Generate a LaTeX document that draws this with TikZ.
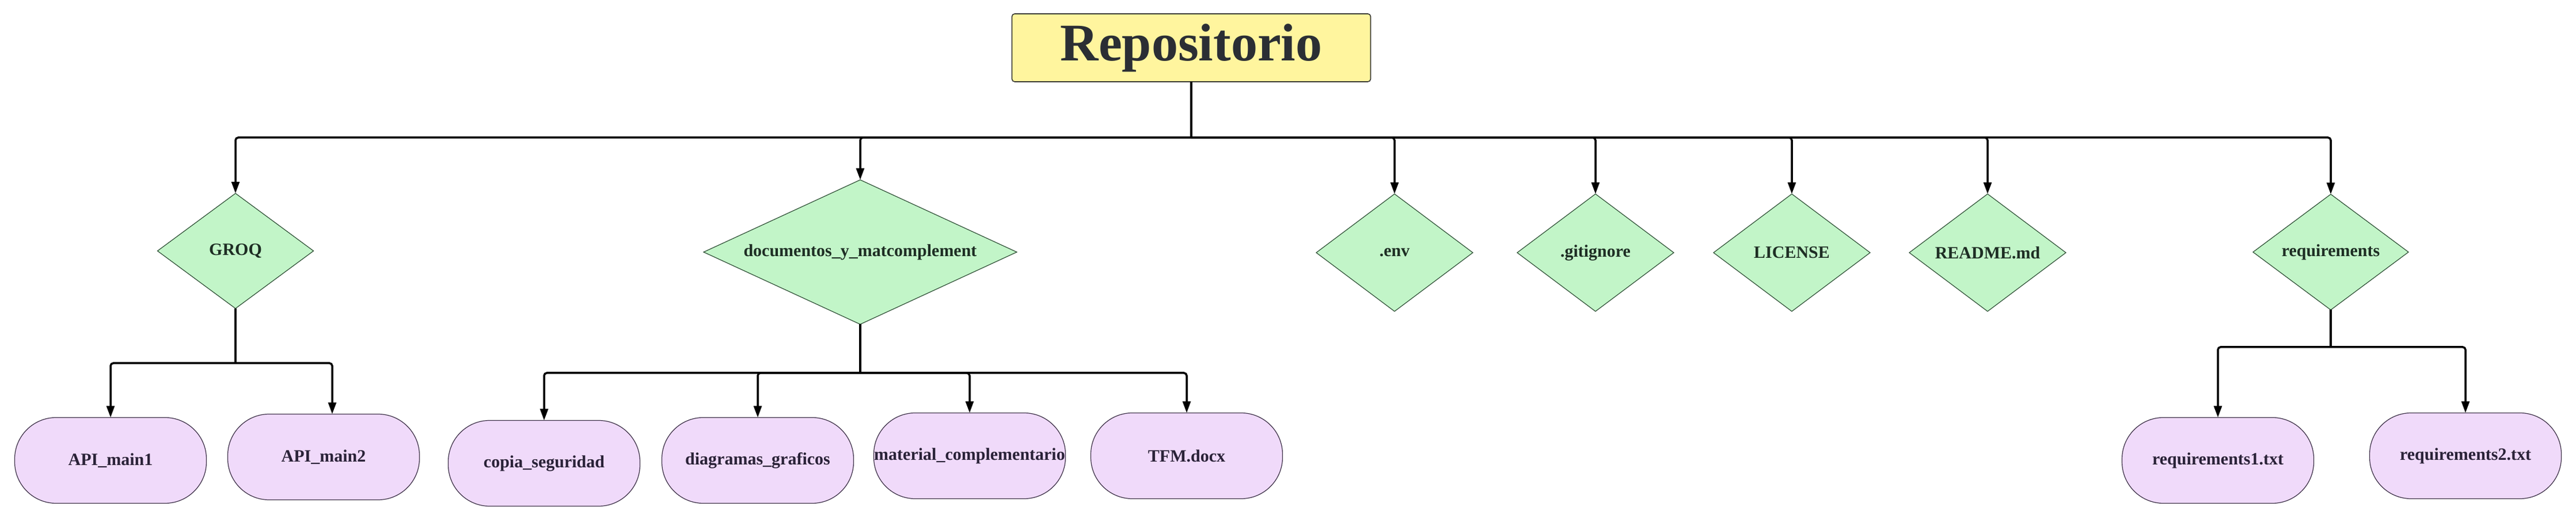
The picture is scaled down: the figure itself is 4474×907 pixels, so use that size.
\documentclass[tikz,border=0pt]{standalone}
\usepackage{fontspec}
\setmainfont{Liberation Serif}
\usetikzlibrary{shapes.geometric,arrows.meta}
\definecolor{rootfill}{HTML}{FFF59E}
\definecolor{rootdraw}{HTML}{3A3A34}
\definecolor{roottext}{HTML}{2B2E34}
\definecolor{dirfill}{HTML}{C2F5C8}
\definecolor{dirdraw}{HTML}{2F4F36}
\definecolor{dirtext}{HTML}{1E2E24}
\definecolor{filefill}{HTML}{F0DAFA}
\definecolor{filedraw}{HTML}{3A2E45}
\definecolor{filetext}{HTML}{2A2238}
\tikzset{
  rootbox/.style={rectangle, draw=rootdraw, fill=rootfill, line width=0.4pt, rounded corners=1.2pt,
    minimum width=155.75pt, minimum height=29.5pt, inner sep=0pt, outer sep=0pt,
    text=roottext, font=\fontsize{23pt}{27pt}\selectfont\bfseries},
  folder/.style={diamond, draw=dirdraw, fill=dirfill, line width=0.3pt, inner sep=0pt, outer sep=0pt,
    aspect=1.35, minimum width=68pt, minimum height=51pt,
    text=dirtext, font=\fontsize{7.5pt}{9pt}\selectfont\bfseries},
  filenode/.style={rectangle, rounded corners=18pt, draw=filedraw, fill=filefill, line width=0.3pt,
    minimum width=83.25pt, minimum height=37.25pt, inner sep=0pt, outer sep=0pt,
    text=filetext, font=\fontsize{7.5pt}{9pt}\selectfont\bfseries},
  link/.style={line width=0.875pt, rounded corners=1.2pt},
  arrowlink/.style={link, -{Triangle[length=5pt,width=3.4pt]}},
}
\begin{document}
\begin{tikzpicture}[x=0.25pt,y=-0.25pt]
\useasboundingbox (0,0) rectangle (4474,907);
\fill[white] (0,0) rectangle (4474,907);

% root
\node[rootbox] (root) at (2069,83) {Repositorio};

% top-level items
\node[folder, minimum width=67.75pt, minimum height=50pt] (groq) at (409,436) {GROQ};
\node[folder, aspect=2.17, minimum width=136pt, minimum height=62.75pt] (docs) at (1494,438) {documentos\_y\_matcomplement};
\node[folder] (env) at (2422,439) {.env};
\node[folder] (git) at (2771,439) {.gitignore};
\node[folder] (lic) at (3112,439) {LICENSE};
\node[folder] (readme) at (3452,439) {README.md};
\node[folder, minimum width=67.5pt, minimum height=50.25pt] (req) at (4048,438) {requirements};

% files
\node[filenode] (api1) at (192,800) {API\_main1};
\node[filenode] (api2) at (562,794) {API\_main2};
\node[filenode] (copia) at (945,805) {copia\_seguridad};
\node[filenode] (diag) at (1316,800) {diagramas\_graficos};
\node[filenode] (mat) at (1684,792) {material\_complementario};
\node[filenode] (tfm) at (2061,792) {TFM.docx};
\node[filenode] (req1) at (3852,800) {requirements1.txt};
\node[filenode] (req2) at (4282,792) {requirements2.txt};

% main bus
\coordinate (mb) at (2069,239);
\draw[line width=0.8pt] (root.south) -- (mb);
\draw[arrowlink] (mb) -| (groq.north);
\draw[arrowlink] (mb) -| (docs.north);
\draw[arrowlink] (mb) -| (env.north);
\draw[arrowlink] (mb) -| (git.north);
\draw[arrowlink] (mb) -| (lic.north);
\draw[arrowlink] (mb) -| (readme.north);
\draw[arrowlink] (mb) -| (req.north);

% GROQ bus
\coordinate (gb) at (409,631);
\draw[link] (groq.south) -- (gb);
\draw[arrowlink] (gb) -| (api1.north);
\draw[arrowlink] (gb) -| ([xshift=3.75pt]api2.north);

% documentos bus
\coordinate (db) at (1494,648);
\draw[link] (docs.south) -- (db);
\draw[arrowlink] (db) -| (copia.north);
\draw[arrowlink] (db) -| (diag.north);
\draw[arrowlink] (db) -| (mat.north);
\draw[arrowlink] (db) -| (tfm.north);

% requirements bus
\coordinate (rb) at (4048,603);
\draw[link] (req.south) -- (rb);
\draw[arrowlink] (rb) -| (req1.north);
\draw[arrowlink] (rb) -| (req2.north);
\end{tikzpicture}
\end{document}
